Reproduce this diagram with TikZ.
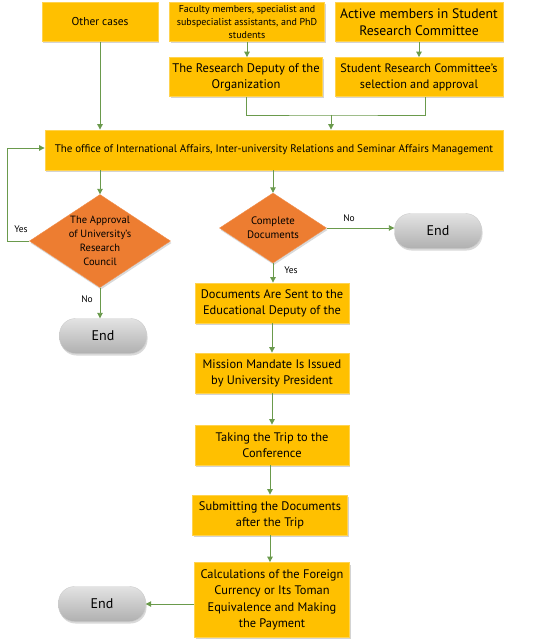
\documentclass[tikz,border=0pt]{standalone}
\usepackage{fontspec}
\setmainfont{PT Sans}
\usetikzlibrary{shapes.geometric,shadows,arrows.meta}

\definecolor{boxyellow}{HTML}{FFC000}
\definecolor{boxedge}{HTML}{FFD34F}
\definecolor{diaorange}{HTML}{ED7D31}
\definecolor{linegreen}{HTML}{6A9A4C}
\newcommand{\fsz}[2]{\fontsize{#1}{#2}\selectfont}

\begin{document}
\begin{tikzpicture}[x=1pt,y=-1pt,
  stepbox/.style={fill=boxyellow,draw=boxedge,line width=.8pt,align=center,inner sep=1pt,
    drop shadow={shadow xshift=1pt,shadow yshift=-2pt,opacity=.35}},
  decision/.style={diamond,aspect=1.5,fill=diaorange,draw=diaorange!85!white,align=center,
    inner sep=-3pt,drop shadow={shadow xshift=1pt,shadow yshift=-2pt,opacity=.3}},
  endbox/.style={rounded corners=16pt,top color=gray!22,bottom color=gray!62,draw=gray!40,
    minimum width=87pt,minimum height=35pt,font=\fsz{14}{16},
    drop shadow={shadow xshift=1pt,shadow yshift=-2pt,opacity=.3}},
  flow/.style={draw=linegreen,line width=.9pt,-{Triangle[length=5.5pt,width=5.5pt]}},
  link/.style={draw=linegreen,line width=.9pt},
  answer/.style={font=\fsz{9.5}{11}}]

\useasboundingbox (0,0) rectangle (550,639);

% top row
\node[stepbox,minimum width=116pt,minimum height=39pt,font=\fsz{11.4}{13}] (other) at (100,22) {Other cases};
\node[stepbox,minimum width=155pt,minimum height=39pt,font=\fsz{10}{13.3}] (faculty) at (247,22)
  {Faculty members, specialist and\\subspecialist assistants, and PhD\\students};
\node[stepbox,minimum width=168pt,minimum height=39pt,font=\fsz{13.7}{17.5}] (active) at (419,22)
  {Active members in Student\\Research Committee};

\node[stepbox,minimum width=153pt,minimum height=39pt,font=\fsz{12.5}{16}] (deputy) at (246,77)
  {The Research Deputy of the\\Organization};
\node[stepbox,minimum width=168pt,minimum height=39pt,font=\fsz{12.2}{16}] (select) at (419,77)
  {Student Research Committee's\\selection and approval};

\node[stepbox,minimum width=458pt,minimum height=40pt,font=\fsz{11}{13}] (office) at (274,150)
  {The office of International Affairs, Inter-university Relations and Seminar Affairs Management};

% decisions
\node[decision,minimum width=141pt,minimum height=93pt,font=\fsz{10.5}{14}] (council) at (100,241)
  {The Approval\\of University's\\Research\\Council};
\node[decision,minimum width=107pt,minimum height=70pt,font=\fsz{10.8}{14}] (docs) at (273,228)
  {Complete\\Documents};

\node[endbox] (end1) at (103,336) {End};
\node[endbox] (end2) at (438,231) {End};

% main column
\node[stepbox,minimum width=154pt,minimum height=40pt,font=\fsz{12.4}{16}] (sent) at (272,303)
  {Documents Are Sent to the\\Educational Deputy of the};
\node[stepbox,minimum width=154pt,minimum height=40pt,font=\fsz{12.4}{16}] (mandate) at (272,373)
  {Mission Mandate Is Issued\\by University President};
\node[stepbox,minimum width=154pt,minimum height=40pt,font=\fsz{12.4}{16}] (trip) at (272,445)
  {Taking the Trip to the\\Conference};
\node[stepbox,minimum width=155pt,minimum height=40pt,font=\fsz{12.4}{16}] (submit) at (270,515)
  {Submitting the Documents\\after the Trip};
\node[stepbox,minimum width=155pt,minimum height=75pt,font=\fsz{12.4}{16.5}] (payment) at (272,600)
  {Calculations of the Foreign\\Currency or Its Toman\\Equivalence and Making\\the Payment};

\node[endbox] (end3) at (102,604) {End};

% connectors
\coordinate (join) at (331,115);
\coordinate (loop) at (7,148);

\draw[flow] (faculty.south) -- (faculty.south |- deputy.north);
\draw[flow] (active.south) -- (active.south |- select.north);
\draw[link] (deputy.south) |- (join) -| ([xshift=6pt]select.south);
\draw[flow] (join) -- (join |- office.north);
\draw[flow] (other) -- (other |- office.north);

\draw[flow] (council.north |- office.south) -- (council.north);
\draw[flow] (docs.north |- office.south) -- (docs.north);

\draw[flow] (council.west) -| (loop) -- (loop -| office.west);
\draw[flow] (council.south) -- (council.south |- end1.north);
\draw[flow] (docs.east) -- (docs.east -| end2.west);
\draw[flow] (docs.south) -- (docs.south |- sent.north);

\draw[flow] (sent) -- (mandate);
\draw[flow] (mandate) -- (trip);
\draw[flow] (submit.north |- trip.south) -- (submit.north);
\draw[flow] (submit) -- (submit |- payment.north);
\draw[flow] (payment.west |- end3) -- (end3.east);

\node[answer] (yes1) at (21,229) {Yes};
\node[answer] (no1) at (87,299) {No};
\node[answer] (no2) at (349,218) {No};
\node[answer] (yes2) at (291,270) {Yes};

\end{tikzpicture}
\end{document}
